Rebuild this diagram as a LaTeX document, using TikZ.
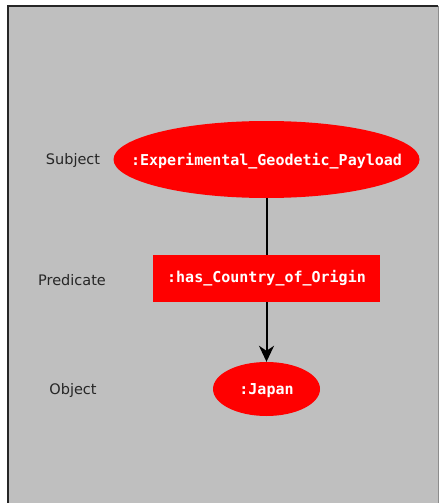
\documentclass[tikz,border=0pt]{standalone}
\usepackage{fontspec}
\setmainfont{DejaVu Sans}
\newfontfamily\codefont{DejaVu Sans Mono}
\usetikzlibrary{shapes.geometric,arrows.meta}
\definecolor{panel}{RGB}{191,191,191}
\tikzset{
  rolelabel/.style={font=\fontsize{14.5}{16}\selectfont, text=black!85, yshift=-1pt},
  termtext/.style={text=white, font=\codefont\bfseries\fontsize{15}{17}\selectfont, inner sep=0pt,
                   text height=11pt, text depth=3pt},
  resource/.style={fill=red, draw=none, ellipse, inner sep=0pt},
  property/.style={termtext, fill=red, draw=none, rectangle},
  link/.style={line width=2pt, black},
}
\begin{document}
\begin{tikzpicture}[x=1pt, y=-1pt]
\useasboundingbox (0,0) rectangle (441,503);
% grey panel
\fill[panel] (8,6) rectangle (439,510);
\draw[line width=2.2pt, black!85] (8,520) -- (8,6) -- (438,6);
\draw[line width=1pt, black!45] (438.5,6) -- (438.5,520);

% triple
\node[resource, minimum width=306pt, minimum height=77pt,
      label={[termtext, yshift=-1.5pt]center::Experimental\_Geodetic\_Payload}] (subj) at (266.5,159.5) {};
\node[property, minimum width=227pt, minimum height=47pt] (pred) at (266.5,278.5) {:has\_Country\_of\_Origin};
\node[resource, minimum width=107pt, minimum height=54pt,
      label={[termtext, yshift=-1.5pt]center::Japan}] (obj) at (266.5,389) {};

\draw[link] (subj) -- (pred);
\draw[link, -{Stealth[length=16pt, width=15pt, inset=5pt]}] (pred) -- (obj);

% role labels
\node[rolelabel] (lsubj) at (73,159) {Subject};
\node[rolelabel] (lpred) at (72,279) {Predicate};
\node[rolelabel] (lobj) at (73,389) {Object};
\end{tikzpicture}
\end{document}
